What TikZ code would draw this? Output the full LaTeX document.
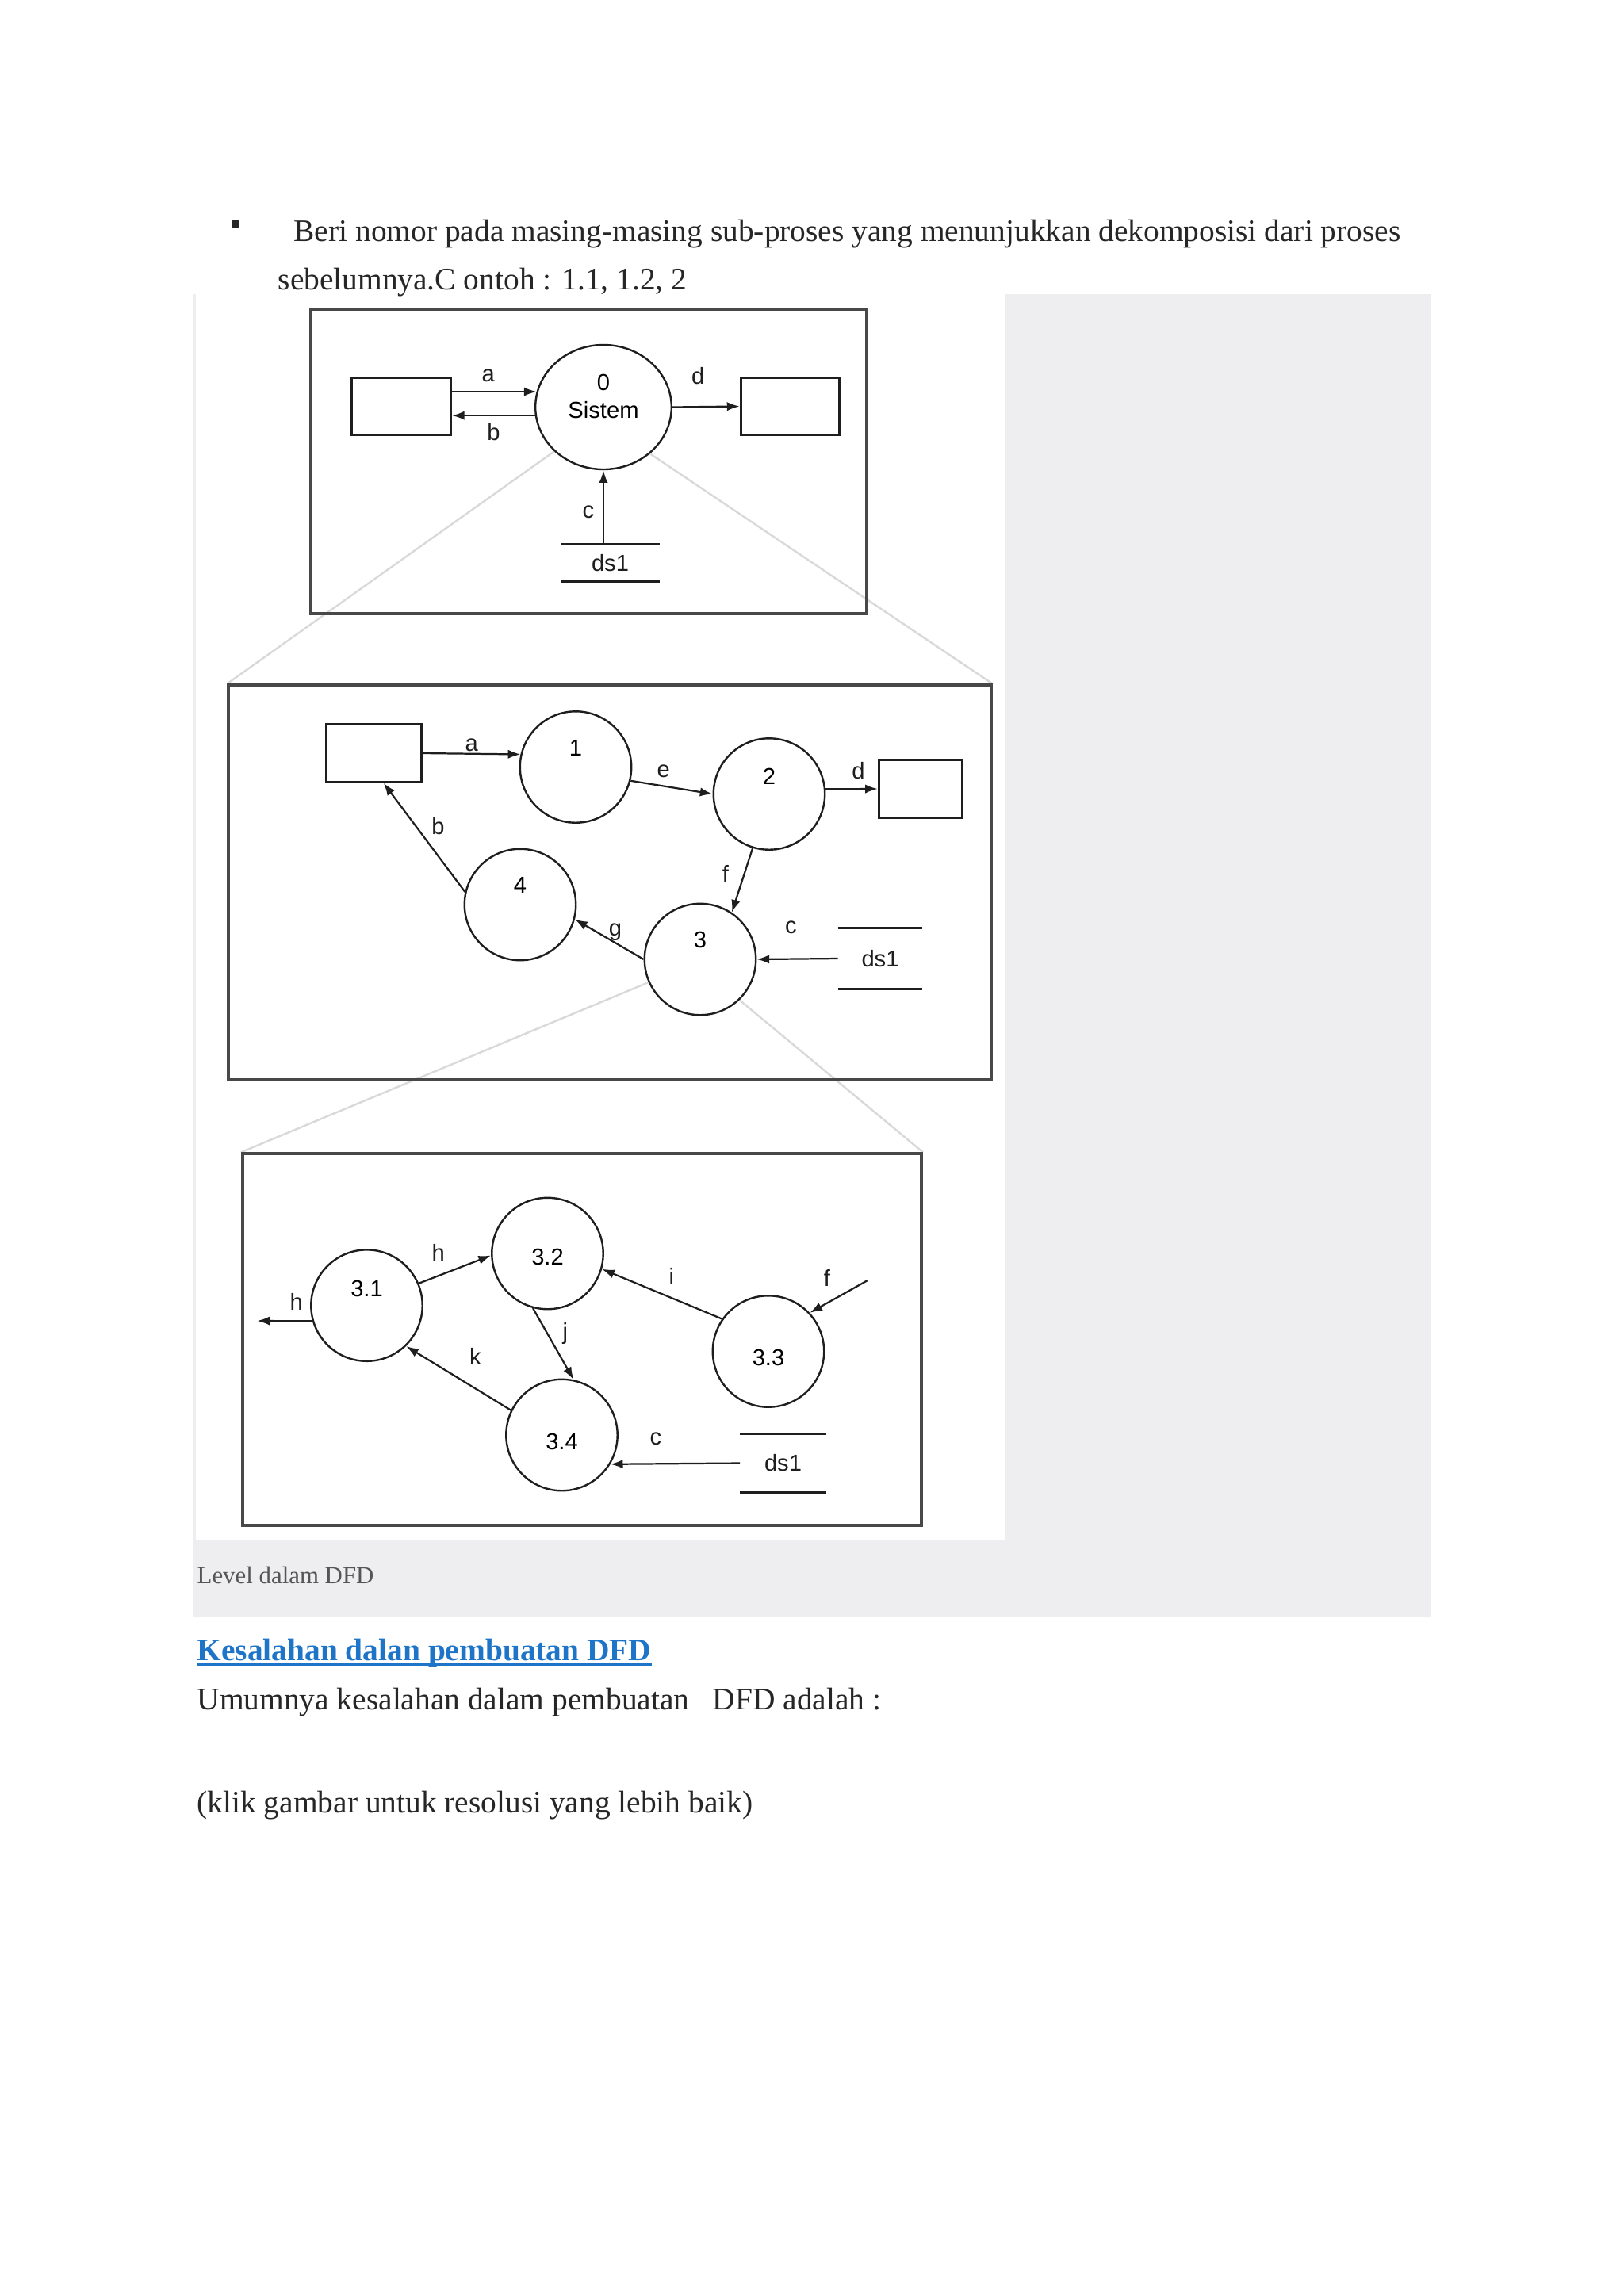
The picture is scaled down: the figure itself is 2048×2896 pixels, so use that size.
\documentclass[tikz,border=0pt]{standalone}
\usepackage{fontspec}
\setmainfont{Liberation Serif}
\newfontfamily\diafont{Liberation Sans}
\usetikzlibrary{positioning,shapes.geometric,arrows.meta,backgrounds}

\definecolor{panelgray}{RGB}{238,237,240}
\definecolor{linkblue}{RGB}{30,117,200}
\definecolor{captiongray}{RGB}{85,85,85}
\definecolor{inkgray}{RGB}{30,30,30}
\definecolor{framegray}{RGB}{72,72,72}

\tikzset{
  proc/.style={draw=inkgray, line width=0.7pt, circle, minimum size=14.4mm, inner sep=0pt},
  ext/.style={draw=inkgray, line width=0.9pt, rectangle, inner sep=0pt},
  store/.style={inner sep=0pt, text=inkgray},
  lvlframe/.style={draw=framegray, line width=1pt, inner sep=0pt},
  flow/.style={->, draw=inkgray, line width=0.65pt},
  zoomline/.style={draw=black!15, line width=0.7pt},
  lbl/.style={inner sep=2pt, text=inkgray},
  body/.style={anchor=base west, inner sep=0pt, text=black!85,
    font=\rmfamily\fontsize{11.5}{14}\selectfont},
}

\begin{document}
\begin{tikzpicture}[x=0.1025390625mm, y=-0.1025390625mm,
    font=\diafont\fontsize{8.5}{10}\selectfont,
    >={Latex[length=4.6pt,width=3.3pt]}]
  \useasboundingbox (0,0) rectangle (2048,2896);

  % page
  \begin{scope}[on background layer]
    \fill[panelgray] (244,371) rectangle (1804,2039);
    \fill[white] (247,371) rectangle (1267,1942);
  \end{scope}

  \node[body, anchor=center] (bullet) at (297,287) {▪};
  \node[body] (line1) at (370,304) {Beri nomor pada masing-masing sub-proses yang menunjukkan dekomposisi dari proses};
  \node[body] (line2) at (350,365) {sebelumnya.C ontoh : 1.1, 1.2, 2};

  % level 0
  \node[lvlframe, minimum width=71.9mm, minimum height=39.4mm] (lvl0) at (742.5,582) {};
  \node[proc, ellipse, minimum width=17.6mm, minimum height=16.1mm,
    label={[align=center, yshift=1.4mm]center:{0\\Sistem}}] (p0) at (761,513.5) {};
  \node[ext, minimum width=12.8mm, minimum height=7.3mm] (e0l) at (506,512.5) {};
  \node[ext, minimum width=12.8mm, minimum height=7.3mm] (e0r) at (996.5,512.5) {};
  \node[store, minimum width=12.6mm, minimum height=4.7mm] (ds0) at (769.5,710) {ds1};

  \draw[flow] (e0l.east |- p0.167) -- node[lbl, pos=0.43, above=0.4mm] {a} (p0.167);
  \draw[flow] (p0.187) -- node[lbl, midway, below=0.2mm] {b} (e0l.east |- p0.187);
  \draw[flow] (p0.east) -- node[lbl, pos=0.38, above=2.1mm] {d} (e0r.west);
  \draw[flow] (p0.south |- ds0.north) -- node[lbl, pos=0.44, left=0.4mm] {c} (p0.south);

  % level 1
  \node[lvlframe, minimum width=98.6mm, minimum height=51mm] (lvl1) at (769,1112.75) {};
  \node[ext, minimum width=12.3mm, minimum height=7.4mm] (e1l) at (471.5,950) {};
  \node[ext, minimum width=10.8mm, minimum height=7.4mm] (e1r) at (1161,995) {};
  \node[proc, label={[yshift=2.5mm]center:1}] (p1) at (726,967.5) {};
  \node[proc, label={[yshift=2.3mm]center:2}] (p2) at (970,1001.5) {};
  \node[proc, label={[yshift=2.5mm]center:3}] (p3) at (883,1210) {};
  \node[proc, label={[yshift=2.5mm]center:4}] (p4) at (656,1141) {};
  \node[store, minimum width=10.8mm, minimum height=7.8mm] (ds1) at (1110,1209) {ds1};

  \draw[flow] (e1l.east) -- node[lbl, midway, above, inner sep=0.5pt] {a} (p1.167);
  \draw[flow] (p1.-14) -- node[lbl, pos=0.4, above=0.3mm] {e} (p2.180);
  \draw[flow] (p2.5) -- node[lbl, pos=0.63, above=0.4mm] {d} (e1r.west);
  \draw[flow] (p2.253) -- node[lbl, pos=0.4, left=1.2mm] {f} (p3.56);
  \draw[flow] (p3.180) -- node[lbl, pos=0.41, above, inner sep=0.5pt] {g} (p4.-15);
  \draw[flow] (p4.167) -- node[lbl, pos=0.6, right=1.2mm] {b} (e1l.-72);
  \draw[flow] (ds1.west) -- node[lbl, pos=0.58, above=2.4mm] {c} (p3.east);

  % level 2
  \node[lvlframe, minimum width=87.8mm, minimum height=48.1mm] (lvl2) at (734,1689.5) {};
  \node[proc, label={[yshift=2.2mm]center:3.1}] (p31) at (462.5,1646.6) {};
  \node[proc, label={[yshift=-0.5mm]center:3.2}] (p32) at (690.5,1581) {};
  \node[proc, label={[yshift=-0.8mm]center:3.3}] (p33) at (969,1704.5) {};
  \node[proc, label={[yshift=-0.9mm]center:3.4}] (p34) at (708.5,1810) {};
  \node[store, minimum width=11mm, minimum height=7.5mm] (ds2) at (987.5,1845.5) {ds1};
  \coordinate (hout) at (324.4,1666);
  \coordinate (fin) at (1093.7,1615.2);

  \draw[flow] (p31.196) -- node[lbl, pos=0.29, above=0.6mm] {h} (hout);
  \draw[flow] (p31.23) -- node[lbl, pos=0.27, above=1.1mm] {h} (p32.182);
  \draw[flow] (p33.145) -- node[lbl, pos=0.42, above=0.9mm] {i} (p32.-16);
  \draw[flow] (fin) -- node[lbl, pos=0.7, above=1.3mm] {f} (p33.43);
  \draw[flow] (p32.255) -- node[lbl, pos=0.35, right=1.2mm] {j} (p34.78);
  \draw[flow] (p34.154) -- node[lbl, pos=0.34, above=2.2mm] {k} (p31.-46);
  \draw[flow] (ds2.west) -- node[lbl, pos=0.65, above=1.6mm] {c} (p34.-31);

  \foreach \s in {ds0,ds1,ds2}
    \draw[inkgray, line width=0.8pt] (\s.north west) -- (\s.north east)
      (\s.south west) -- (\s.south east);

  % zoom lines between levels
  \begin{scope}[on background layer]
    \draw[zoomline] (p0.222) -- (lvl1.north west);
    \draw[zoomline] (p0.-45) -- (lvl1.north east);
    \draw[zoomline] (p3.204) -- (lvl2.north west);
    \draw[zoomline] (p3.-46) -- (lvl2.north east);
  \end{scope}

  % text below
  \node[body, font=\rmfamily\fontsize{9}{11}\selectfont, text=captiongray] (caption) at (248,1997) {Level dalam DFD};
  \node[body, font=\rmfamily\bfseries\fontsize{11.5}{14}\selectfont, text=linkblue] (heading) at (248,2094) {Kesalahan dalan pembuatan DFD};
  \draw[linkblue, line width=0.8pt] ([yshift=-1.7pt]heading.base west) -- ([yshift=-1.7pt]heading.base east);
  \node[body] (intro) at (248,2156) {Umumnya kesalahan dalam pembuatan\ \ \ DFD adalah :};
  \node[body] (klik) at (248,2286) {(klik gambar untuk resolusi yang lebih baik)};
\end{tikzpicture}
\end{document}
